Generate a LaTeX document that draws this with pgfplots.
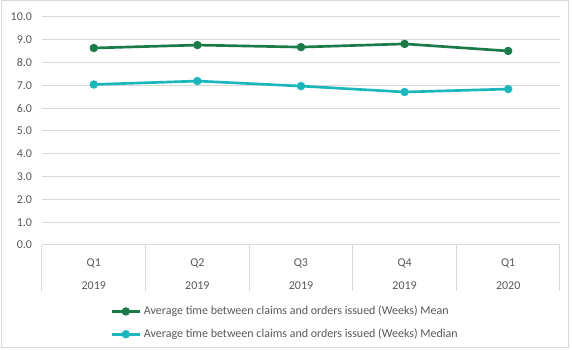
\documentclass[border=0pt]{standalone}
\usepackage{pgfplots}
\pgfplotsset{compat=1.18}
\usepackage{fontspec}
\setmainfont{Carlito}
\definecolor{meanc}{RGB}{26,122,72}
\definecolor{medc}{RGB}{26,184,188}
\definecolor{txt}{RGB}{89,89,89}
\definecolor{grd}{RGB}{217,217,217}
\begin{document}
\begin{tikzpicture}
\useasboundingbox (0,0) rectangle (429pt,262.5pt);
\draw[grd,line width=0.75pt] (1.1pt,1.5pt) rectangle (426pt,261.75pt);
\begin{axis}[
  at={(31.5pt,78.75pt)}, anchor=south west,
  scale only axis, width=388.5pt, height=171pt,
  xmin=-0.5, xmax=4.5, ymin=0, ymax=10,
  ytick={0,1,...,10},
  xtick={0,1,2,3,4},
  xticklabels={Q1\\[6pt]2019,Q2\\[6pt]2019,Q3\\[6pt]2019,Q4\\[6pt]2019,Q1\\[6pt]2020},
  x tick label style={align=center, font=\fontsize{9}{11}\selectfont, text=txt, yshift=-7pt},
  y tick label style={font=\fontsize{9}{11}\selectfont, text=txt, xshift=-4pt},
  yticklabel={\pgfmathprintnumber[fixed,fixed zerofill,precision=1]{\tick}},
  /pgf/number format/assume math mode=true,
  axis line style={draw=none},
  tick style={draw=none},
  ymajorgrids, grid style={grd, line width=0.75pt},
  clip=false,
  legend style={at={(0.47,-0.255)}, anchor=north, draw=none, fill=none,
    font=\fontsize{9}{11}\selectfont, text=txt, row sep=5pt, inner sep=0pt},
  legend cell align=left,
  legend image code/.code={\draw[#1,mark repeat=2,mark phase=2] plot coordinates {(0cm,0cm)(0.37cm,0cm)(0.74cm,0cm)};},
]
\addplot[meanc, line width=2pt, mark=*, mark size=2.1pt] coordinates {(0,8.64) (1,8.77) (2,8.68) (3,8.82) (4,8.51)};
\addlegendentry{Average time between claims and orders issued (Weeks) Mean}
\addplot[medc, line width=2pt, mark=*, mark size=2.1pt] coordinates {(0,7.04) (1,7.19) (2,6.97) (3,6.71) (4,6.84)};
\addlegendentry{Average time between claims and orders issued (Weeks) Median}
\foreach \i in {-0.5,0.5,1.5,2.5,3.5,4.5} {
  \edef\tmp{\noexpand\draw[grd,line width=0.75pt] (axis cs:\i,0) -- ([yshift=-34.5pt]axis cs:\i,0);}\tmp
}
\end{axis}
\end{tikzpicture}
\end{document}
